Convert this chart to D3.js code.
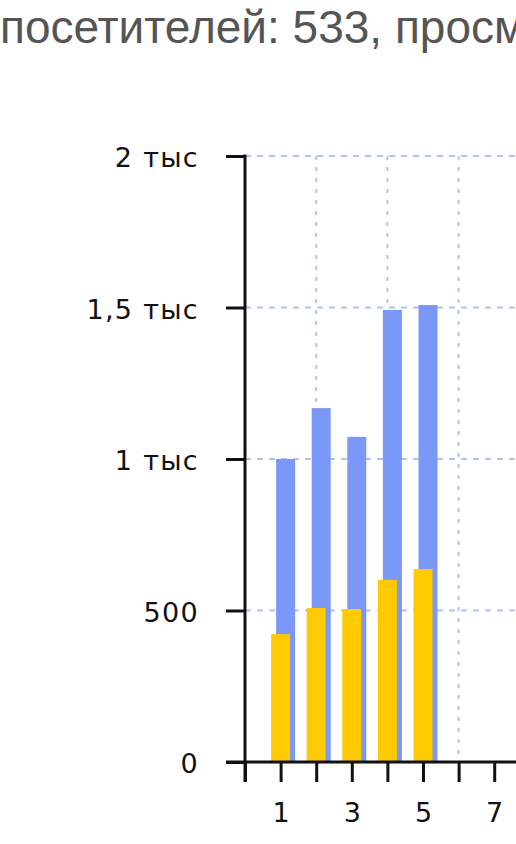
<!DOCTYPE html>
<html><head><meta charset="utf-8">
<script src="https://cdn.jsdelivr.net/npm/d3@7"></script>
<style>
html,body{margin:0;padding:0;background:#fff;overflow:hidden}
svg{display:block}
</style></head>
<body>
<script>
const titleText = "посетителей: 533, просм";
const days = [1, 2, 3, 4, 5];
const views = [1000, 1168, 1073, 1492, 1508];
const visitors = [422, 508, 505, 601, 637];
const yTickValues = [0, 500, 1000, 1500, 2000];
const yTickLabels = ["0", "500", "1 тыс", "1,5 тыс", "2 тыс"];
const xTickValues = d3.range(0, 8);
const xGridValues = [2, 4, 6];

const W = 516, H = 844;
const svg = d3.select("body").append("svg").attr("width", W).attr("height", H);

svg.append("text").attr("x", 0).attr("y", 43)
  .attr("font-family", "'Liberation Sans', Arial, sans-serif")
  .attr("font-size", 46).attr("fill", "#555").text(titleText);

const x = d3.scaleLinear().domain([0, 14]).range([245, 245 + 14 * 35.6]);
const y = d3.scaleLinear().domain([0, 2000]).range([762, 156]);

const grid = svg.append("g").attr("stroke", "#b3c3ec").attr("stroke-width", 2);
grid.selectAll("line.h").data(yTickValues.filter(v => v > 0)).join("line")
  .attr("class", "h")
  .attr("x1", x(0)).attr("x2", W).attr("y1", d => y(d)).attr("y2", d => y(d))
  .attr("stroke-dasharray", "6,6");
grid.selectAll("line.v").data(xGridValues).join("line")
  .attr("class", "v")
  .attr("x1", d => x(d)).attr("x2", d => x(d)).attr("y1", y(2000)).attr("y2", y(0))
  .attr("stroke-dasharray", "4,7");

const bw = 19;
svg.append("g").selectAll("rect").data(days).join("rect")
  .attr("x", (d) => x(d) - bw / 2 + 5).attr("width", bw)
  .attr("y", (d, i) => y(views[i])).attr("height", (d, i) => y(0) - y(views[i]))
  .attr("fill", "#7b98f8");
svg.append("g").selectAll("rect").data(days).join("rect")
  .attr("x", (d) => x(d) - bw / 2).attr("width", bw)
  .attr("y", (d, i) => y(visitors[i])).attr("height", (d, i) => y(0) - y(visitors[i]))
  .attr("fill", "#ffcb00");

const labelFont = "'DejaVu Sans', sans-serif";
const yAxis = svg.append("g").attr("transform", `translate(${x(0)},0)`)
  .call(d3.axisLeft(y).tickValues(yTickValues).tickSize(19).tickSizeOuter(0).tickPadding(27)
    .tickFormat((d, i) => yTickLabels[i]));
yAxis.select(".domain").remove();
yAxis.selectAll("line").attr("stroke", "#111").attr("stroke-width", 3);
yAxis.selectAll("text").attr("font-family", labelFont).attr("font-size", 27)
  .attr("letter-spacing", 1.3).attr("fill", "#111").attr("dy", "0.4em");

const xAxis = svg.append("g").attr("transform", `translate(0,${y(0)})`)
  .call(d3.axisBottom(x).tickValues(xTickValues).tickSize(20).tickSizeOuter(0).tickPadding(21)
    .tickFormat(d => d % 2 ? String(d) : ""));
xAxis.select(".domain").remove();
xAxis.selectAll("line").attr("stroke", "#111").attr("stroke-width", 3);
xAxis.selectAll("text").attr("font-family", labelFont).attr("font-size", 27).attr("fill", "#111");

svg.append("line").attr("x1", x(0) - 19).attr("x2", W).attr("y1", y(0)).attr("y2", y(0))
  .attr("stroke", "#111").attr("stroke-width", 3);
svg.append("line").attr("x1", x(0)).attr("x2", x(0)).attr("y1", y(2000) - 1.5).attr("y2", y(0) + 20)
  .attr("stroke", "#111").attr("stroke-width", 3);
</script>
</body></html>
